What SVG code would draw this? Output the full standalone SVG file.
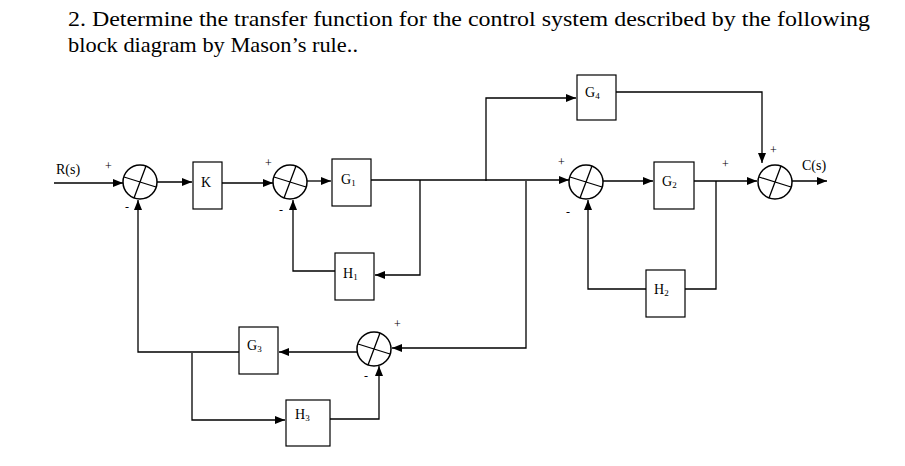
<svg xmlns="http://www.w3.org/2000/svg" width="905" height="466" viewBox="0 0 905 466">
<style>
.t{font-family:"Liberation Serif",serif;fill:#000}
.h{font-size:22px}
.l{font-size:14px}
.s{font-size:12px}
.b{fill:#fff;stroke:#000;stroke-width:1.2}
.c{fill:none;stroke:#000;stroke-width:1.5}
.w{fill:none;stroke:#000;stroke-width:1.3}
</style>
<defs><marker id="a" viewBox="0 0 10 10" refX="10" refY="5" markerWidth="10" markerHeight="10" markerUnits="userSpaceOnUse" orient="auto"><path d="M0,1 L10,5 L0,9 Z" fill="#000"/></marker></defs>
<rect width="905" height="466" fill="#fff"/>
<text class="t h" x="68" y="26" textLength="802" lengthAdjust="spacingAndGlyphs">2. Determine the transfer function for the control system described by the following</text>
<text class="t h" x="68" y="52" textLength="290" lengthAdjust="spacingAndGlyphs">block diagram by Mason’s rule..</text>
<g id="connectors" class="w">
<path d="M54,183 H123" marker-end="url(#a)"/>
<path d="M157,182 H192" marker-end="url(#a)"/>
<path d="M222,183 H273" marker-end="url(#a)"/>
<path d="M307,181 H331" marker-end="url(#a)"/>
<path d="M371,180 H569" marker-end="url(#a)"/>
<path d="M420,180 V275 H375" marker-end="url(#a)"/>
<path d="M335,271 H293 V200" marker-end="url(#a)"/>
<path d="M486,181 V98 H576" marker-end="url(#a)"/>
<path d="M616,92 H762 V163" marker-end="url(#a)"/>
<path d="M526,181 V348 H392" marker-end="url(#a)"/>
<path d="M357,352 H279" marker-end="url(#a)"/>
<path d="M239,352 H138 V200" marker-end="url(#a)"/>
<path d="M192,353 V420 H285" marker-end="url(#a)"/>
<path d="M330,419 H379 V366" marker-end="url(#a)"/>
<path d="M603,181 H653" marker-end="url(#a)"/>
<path d="M694,181 H757" marker-end="url(#a)"/>
<path d="M716,181 V289 H685"/>
<path d="M646,289 H588 V200" marker-end="url(#a)"/>
<path d="M792,181 H827" marker-end="url(#a)"/>
</g>
<g id="sum1"><circle class="c" cx="140" cy="182" r="17"/><path class="w" d="M134,198 L146,166 M124,177 L156,187"/></g>
<g id="sum2"><circle class="c" cx="290" cy="182" r="17"/><path class="w" d="M284,198 L296,166 M274,177 L306,187"/></g>
<g id="sum3"><circle class="c" cx="586" cy="182" r="17"/><path class="w" d="M580,198 L592,166 M570,177 L602,187"/></g>
<g id="sum4"><circle class="c" cx="775" cy="182" r="17"/><path class="w" d="M769,198 L781,166 M759,177 L791,187"/></g>
<g id="sum5"><circle class="c" cx="374" cy="349" r="17"/><path class="w" d="M368,365 L380,333 M358,344 L390,354"/></g>
<g id="K"><rect class="b" x="193" y="162" width="29" height="47"/><text class="t l" x="201" y="187">K</text></g>
<g id="G1"><rect class="b" x="332" y="159" width="39" height="47"/><text class="t l" x="341" y="184">G<tspan font-size="9" dy="2">1</tspan></text></g>
<g id="H1"><rect class="b" x="335" y="253" width="39" height="47"/><text class="t l" x="343" y="278">H<tspan font-size="9" dy="2">1</tspan></text></g>
<g id="G4"><rect class="b" x="577" y="75" width="39" height="45"/><text class="t l" x="585" y="97">G<tspan font-size="9" dy="2">4</tspan></text></g>
<g id="G2"><rect class="b" x="654" y="162" width="40" height="47"/><text class="t l" x="662" y="186">G<tspan font-size="9" dy="2">2</tspan></text></g>
<g id="H2"><rect class="b" x="646" y="270" width="39" height="47"/><text class="t l" x="654" y="294">H<tspan font-size="9" dy="2">2</tspan></text></g>
<g id="G3"><rect class="b" x="239" y="327" width="39" height="47"/><text class="t l" x="247" y="350">G<tspan font-size="9" dy="2">3</tspan></text></g>
<g id="H3"><rect class="b" x="286" y="400" width="44" height="46"/><text class="t l" x="295" y="419">H<tspan font-size="9" dy="2">3</tspan></text></g>
<g id="labels" class="t">
<text class="l" x="56" y="174">R(s)</text>
<text class="l" x="802" y="170">C(s)</text>
<text class="s" x="105" y="170">+</text>
<text class="s" x="125" y="211">-</text>
<text class="s" x="265" y="167">+</text>
<text class="s" x="279" y="214">-</text>
<text class="s" x="558" y="166">+</text>
<text class="s" x="566" y="216">-</text>
<text class="s" x="722" y="168">+</text>
<text class="s" x="770" y="154">+</text>
<text class="s" x="394" y="328">+</text>
<text class="s" x="364" y="380">-</text>
</g>
</svg>
